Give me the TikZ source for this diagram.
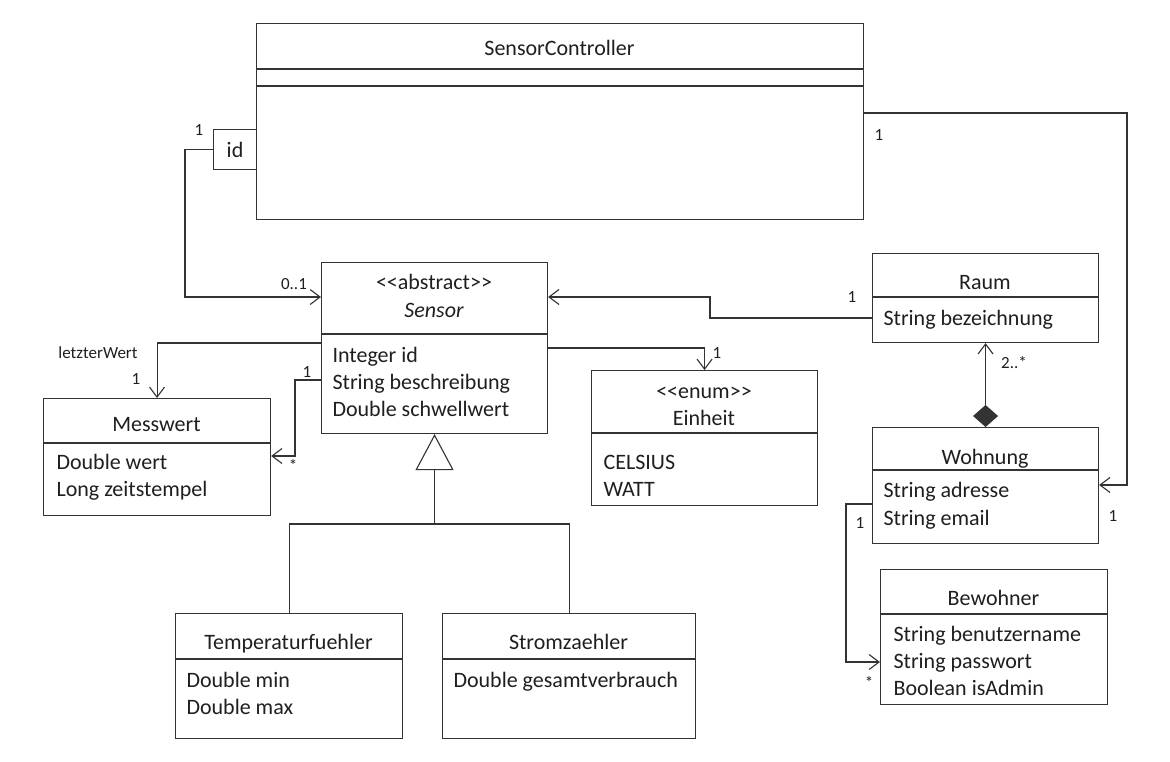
\documentclass[tikz,border=0pt]{standalone}
\usepackage{fontspec}
\setmainfont{Carlito}
\usetikzlibrary{arrows.meta}
\begin{document}
\begin{tikzpicture}[x=1pt,y=-1pt,line width=1.1pt,color=black!80,
  cls/.style={draw,rectangle,inner sep=0pt,anchor=north west},
  txt/.style={inner sep=0pt,text=black!88,font=\fontsize{22}{27}\selectfont,text height=14pt,text depth=0pt},
  lbl/.style={inner sep=0pt,text=black!88,font=\fontsize{17}{20}\selectfont,text height=11pt,text depth=0pt},
  assoc/.style={-{Straight Barb[length=10pt,width=15pt]}},
  gen/.style={-{Triangle[open,length=36pt,width=38pt]}},
  comp/.style={{Diamond[length=22pt,width=25pt]}-{Straight Barb[length=10pt,width=15pt]}}]
\useasboundingbox[fill=white] (0,0) rectangle (1170,761);

% SensorController
\node[cls,minimum width=607pt,minimum height=196pt] (sc) at (256,23) {};
\draw (sc.west |- 0,69) -- (sc.east |- 0,69);
\draw (sc.west |- 0,86) -- (sc.east |- 0,86);
\node[txt] (sct) at (559.5,48) {SensorController};
\node[cls,fill=white,minimum width=43pt,minimum height=40pt,text=black!88,font=\fontsize{22}{27}\selectfont] (idb) at (213,129) {id};

% Sensor
\node[cls,minimum width=226pt,minimum height=171pt] (sensor) at (321,262) {};
\draw (sensor.west |- 0,334) -- (sensor.east |- 0,334);
\node[txt] (s1) at (434,282) {<\kern0pt<abstract>\kern0pt>};
\node[txt] (s2) at (434,310) {\itshape Sensor};
\node[txt,anchor=west] (s3) at (332,355) {Integer id};
\node[txt,anchor=west] (s4) at (332,382) {String beschreibung};
\node[txt,anchor=west] (s5) at (332,409) {Double schwellwert};

% Messwert
\node[cls,minimum width=227pt,minimum height=117pt] (mw) at (43,398) {};
\draw (mw.west |- 0,443) -- (mw.east |- 0,443);
\node[txt] (m1) at (156.5,424) {Messwert};
\node[txt,anchor=west] (m2) at (56,462) {Double wert};
\node[txt,anchor=west] (m3) at (56,489) {Long zeitstempel};

% Einheit
\node[cls,minimum width=226pt,minimum height=135pt] (ein) at (591,370) {};
\draw (ein.west |- 0,433) -- (ein.east |- 0,433);
\node[txt] (e1) at (704,391) {<\kern0pt<enum>\kern0pt>};
\node[txt] (e2) at (704,418) {Einheit};
\node[txt,anchor=west] (e3) at (603,462) {CELSIUS};
\node[txt,anchor=west] (e4) at (603,489) {WATT};

% Raum
\node[cls,minimum width=226pt,minimum height=89pt] (raum) at (872,253) {};
\draw (raum.west |- 0,297) -- (raum.east |- 0,297);
\node[txt] (r1) at (985,282) {Raum};
\node[txt,anchor=west] (r2) at (883,318) {String bezeichnung};

% Wohnung
\node[cls,minimum width=226pt,minimum height=116pt] (wo) at (872,427) {};
\draw (wo.west |- 0,470) -- (wo.east |- 0,470);
\node[txt] (w1) at (985,457) {Wohnung};
\node[txt,anchor=west] (w2) at (883,490) {String adresse};
\node[txt,anchor=west] (w3) at (883,518) {String email};

% Bewohner
\node[cls,minimum width=227pt,minimum height=135pt] (bw) at (880,569) {};
\draw (bw.west |- 0,614) -- (bw.east |- 0,614);
\node[txt] (b1) at (993.5,598) {Bewohner};
\node[txt,anchor=west] (b2) at (893,634) {String benutzername};
\node[txt,anchor=west] (b3) at (893,661) {String passwort};
\node[txt,anchor=west] (b4) at (893,688) {Boolean isAdmin};

% Temperaturfuehler
\node[cls,minimum width=227pt,minimum height=125pt] (tf) at (175,613) {};
\draw (tf.west |- 0,659) -- (tf.east |- 0,659);
\node[txt] (t1) at (288.5,642) {Temperaturfuehler};
\node[txt,anchor=west] (t2) at (186,680) {Double min};
\node[txt,anchor=west] (t3) at (186,707) {Double max};

% Stromzaehler
\node[cls,minimum width=253pt,minimum height=125pt] (sz) at (442,613) {};
\draw (sz.west |- 0,659) -- (sz.east |- 0,659);
\node[txt] (z1) at (568.5,642) {Stromzaehler};
\node[txt,anchor=west] (z2) at (453,680) {Double gesamtverbrauch};

% Generalization
\coordinate (gj) at (sensor.south |- 0,524);
\draw (tf.north) |- (gj) -| (sz.north);
\draw[gen] (gj) -- (sensor.south);

% Associations
\draw[assoc] (idb.west) -| (185,297) -- (sensor.west |- 0,297);
\draw[assoc] (sensor.west |- 0,343) -| (mw.north);
\draw[assoc] (sensor.west |- 0,380) -| (295,456) -- (mw.east |- 0,456);
\draw[assoc] (sensor.east |- 0,348) -| (ein.north);
\draw[assoc] (raum.west |- 0,318) -| (710,297) -- (sensor.east |- 0,297);
\draw[assoc] (sc.east |- 0,113) -| (1127,485) -- (wo.east |- 0,485);
\draw[assoc] (wo.west |- 0,504) -| (846,662) -- (bw.west |- 0,662);
\draw[comp] (wo.north) -- (raum.south);

% Multiplicities
\node[lbl] (l1) at (199,130) {1};
\node[lbl] (l2) at (294,284) {0..1};
\node[lbl] (l3) at (98,353) {letzterWert};
\node[lbl] (l4) at (136,379) {1};
\node[lbl] (l5) at (307,372) {1};
\node[lbl] (l6) at (293,466) {*};
\node[lbl] (l7) at (717,353) {1};
\node[lbl] (l8) at (852,297) {1};
\node[lbl] (l9) at (1014,363) {2..*};
\node[lbl] (l10) at (879,135) {1};
\node[lbl] (l11) at (1113,516) {1};
\node[lbl] (l12) at (860,523) {1};
\node[lbl] (l13) at (869,683) {*};
\end{tikzpicture}
\end{document}
